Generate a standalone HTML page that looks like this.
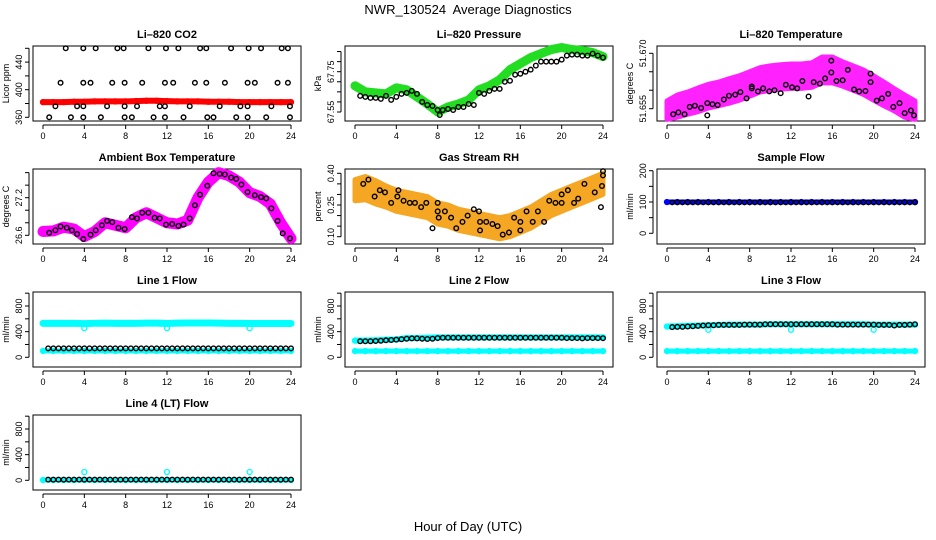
<!DOCTYPE html>
<html><head><meta charset="utf-8">
<style>
html,body{margin:0;padding:0;background:#fff;}
svg{display:block;font-family:"Liberation Sans",sans-serif;}
</style></head>
<body>
<svg id="chart" width="936" height="540" viewBox="0 0 936 540" xmlns="http://www.w3.org/2000/svg">
<rect x="0" y="0" width="936" height="540" fill="#fff"/>
<text x="468" y="14" text-anchor="middle" font-size="13">NWR_130524&#160; Average Diagnostics</text>
<text x="468" y="531" text-anchor="middle" font-size="13">Hour of Day (UTC)</text>
</svg>
<script>
// ---------- data ----------
const hoursHourly = [0,1,2,3,4,5,6,7,8,9,10,11,12,13,14,15,16,17,18,19,20,21,22,23,24];
const xTicks = [0,4,8,12,16,20,24];

// CO2
const co2BlackHours = [2.2,3.9,5.1,7.2,7.8,10.2,11.9,13.1,15.2,15.8,18.2,19.9,21.1,23.1,23.7,
 1.7,3.9,4.6,6.7,7.9,9.6,11.8,12.6,14.7,15.8,17.6,19.8,20.5,22.7,23.7,
 1.2,3.3,3.9,6.2,7.9,9.1,11.3,11.8,14.2,17.1,19.1,19.8,22.1,23.9,
 0.6,2.7,3.9,5.6,7.9,8.6,10.7,11.8,13.6,15.9,16.5,18.7,19.8,21.6,23.9];
const co2BlackVals = [460,460,460,460,460,460,460,460,460,460,460,460,460,460,460,
 410,410,410,410,410,410,410,410,410,410,410,410,410,410,410,
 376,376,376,376,376,376,376,376,376,376,376,376,376,376,
 360,360,360,360,360,360,360,360,360,360,360,360,360,360,360];
const co2Red = [382,382,382,382.5,382.5,383,383,383,383,383.5,384,384,383.5,383,383,383,382.5,382.5,382.5,382,382,382,382,382,382];

// Pressure
const presGreen = [67.68,67.65,67.645,67.64,67.67,67.66,67.625,67.59,67.55,67.575,67.59,67.61,67.66,67.68,67.71,67.76,67.79,67.82,67.84,67.86,67.87,67.86,67.855,67.845,67.825];
const presBlackHours = [0.5,1,1.5,2,2.5,3,3.5,4,4.5,5,5.5,6,6.5,7,7.5,8,8.2,8.5,9,9.5,10,10.5,11,11.5,12,12.5,13,13.5,14,14.5,15,15.5,16,16.5,17,17.5,18,18.5,19,19.5,20,20.5,21,21.5,22,22.5,23,23.5,24];
const presBlackVals = [67.63,67.625,67.62,67.62,67.615,67.63,67.61,67.625,67.64,67.645,67.655,67.64,67.6,67.585,67.58,67.56,67.535,67.56,67.565,67.56,67.575,67.575,67.59,67.585,67.645,67.64,67.655,67.665,67.665,67.7,67.705,67.735,67.74,67.75,67.76,67.78,67.8,67.8,67.8,67.8,67.81,67.83,67.835,67.835,67.83,67.83,67.84,67.83,67.82];

// Li-820 temperature
const tempCenter = [51.6546,51.6557,51.6565,51.6574,51.6584,51.659,51.6598,51.6606,51.6617,51.6628,51.6633,51.6636,51.6638,51.6638,51.6641,51.6655,51.6655,51.6644,51.6633,51.6622,51.6606,51.659,51.6574,51.6557,51.6546];
const tempSpread = [0.0025,0.003,0.003,0.0032,0.0032,0.0032,0.0033,0.0033,0.0033,0.0033,0.0033,0.0033,0.0033,0.0033,0.0033,0.0035,0.0035,0.0033,0.0033,0.0033,0.0033,0.0032,0.003,0.003,0.0025];
const tempBlackHours = [0.6,1.1,1.7,2.2,2.7,3.3,3.9,3.9,4.4,4.9,5.5,6,6.6,7.1,7.7,8.2,8.2,8.8,9.3,9.9,10.4,11,11.5,12.1,12.6,13.1,13.7,14.2,14.8,15.3,15.9,15.9,16.4,17,17.5,18.1,18.6,19.2,19.7,19.7,20.3,20.8,21.4,21.9,22.5,23,23.6,23.9];
const tempBlackVals = [51.6535,51.654,51.6535,51.6555,51.6558,51.6552,51.6532,51.6565,51.6562,51.656,51.6575,51.6585,51.6588,51.6595,51.6578,51.6605,51.661,51.6597,51.6605,51.6597,51.66,51.6592,51.6615,51.6608,51.6605,51.6625,51.6583,51.6622,51.6618,51.6632,51.668,51.6648,51.6625,51.6627,51.6655,51.6602,51.6597,51.6598,51.6645,51.6622,51.6572,51.6578,51.659,51.6555,51.6565,51.6538,51.6545,51.6532];

// Ambient box temperature
const ambMagenta = [26.66,26.67,26.73,26.70,26.58,26.66,26.80,26.76,26.72,26.88,26.96,26.88,26.80,26.78,26.84,27.20,27.45,27.60,27.55,27.45,27.28,27.22,27.10,26.80,26.55];
const ambBlackHours = [0.6,1.2,1.7,2.3,2.8,3.3,3.9,4.6,5.1,5.7,6.2,6.7,7.3,7.9,8.6,9.1,9.6,10.2,10.8,11.3,11.9,12.5,13.1,13.6,14.2,14.7,15.2,15.9,16.5,17.1,17.6,18.2,18.7,19.2,19.8,20.5,21.1,21.6,22.1,22.7,23.2,23.9];
const ambBlackVals = [26.64,26.68,26.74,26.72,26.68,26.62,26.54,26.61,26.68,26.76,26.83,26.81,26.72,26.70,26.89,26.87,26.96,26.96,26.88,26.87,26.77,26.78,26.75,26.77,26.87,27.08,27.25,27.39,27.59,27.58,27.57,27.52,27.50,27.41,27.29,27.24,27.21,27.19,27.03,26.83,26.63,26.55];

// Gas stream RH
const rhCenter = [0.32,0.33,0.31,0.29,0.27,0.26,0.25,0.24,0.21,0.20,0.18,0.17,0.16,0.15,0.14,0.15,0.17,0.19,0.22,0.25,0.27,0.29,0.31,0.33,0.35];
const rhSpread = [0.05,0.055,0.055,0.05,0.05,0.05,0.05,0.05,0.05,0.05,0.05,0.05,0.05,0.05,0.05,0.05,0.05,0.05,0.05,0.05,0.05,0.05,0.05,0.05,0.05];
const rhBlackHours = [0.8,1.3,1.9,2.4,2.9,3.5,4.1,4.2,4.7,5.3,5.8,6.4,6.9,7.5,8.0,8.0,8.1,8.7,9.3,9.8,10.4,10.9,11.5,12.0,12.1,12.1,12.7,13.3,13.8,14.3,14.9,15.4,16.0,16.0,16.6,17.2,17.7,18.3,18.8,19.4,20.0,20.0,20.6,21.2,21.6,22.2,23.2,23.8,23.9,24.0,24.0];
const rhBlackVals = [0.35,0.37,0.29,0.32,0.31,0.26,0.29,0.32,0.27,0.26,0.26,0.24,0.26,0.14,0.26,0.22,0.19,0.22,0.19,0.14,0.17,0.20,0.23,0.22,0.17,0.13,0.17,0.16,0.15,0.11,0.12,0.19,0.17,0.13,0.22,0.17,0.22,0.17,0.27,0.26,0.30,0.26,0.32,0.26,0.28,0.35,0.31,0.24,0.34,0.39,0.41];

// Sample flow
const sampleBlue = [100,100,100,100,100,100,100,100,100,100,100,100,100,100,100,100,100,100,100,100,100,100,100,100,100];
const sampleBlack = [99,99,99,99,99,99,99,99,99,99,99,99,99,99,99,99,99,99,99,99,99,99,99,99,99,99,99,99,99,99,99,99,99,99,99,99,99,99,99,99,99,99,99,99,99,99,99,99];

// Line flows (half-hour black points from 0.5 to 24)
const line1CyanHi = [530,530,530,530,525,530,532,530,530,530,532,532,528,532,535,535,535,532,530,530,528,528,528,528,528];
const line1CyanLo = [100,100,100,100,100,100,100,100,100,100,100,100,100,100,100,100,100,100,100,100,100,100,100,100,100];
const line1Black = [140,140,140,140,140,140,140,140,140,140,140,140,140,140,140,140,140,140,140,140,140,140,140,140,140,140,140,140,140,140,140,140,140,140,140,140,140,140,140,140,140,140,140,140,140,140,140,140];
const line2CyanHi = [260,262,265,275,280,300,300,305,310,310,310,310,310,310,310,310,310,310,310,310,310,310,310,310,310];
const line2CyanLo = [97,97,97,97,97,97,97,97,97,97,97,97,97,97,97,97,97,97,97,97,97,97,97,97,97];
const line2Black = [250,250,250,255,258,265,270,275,282,290,295,295,290,285,290,300,305,305,305,305,305,305,305,305,305,305,305,305,305,305,305,305,305,305,305,305,305,305,305,305,300,300,300,295,300,300,300,298];
const line3CyanHi = [480,485,490,495,500,505,510,510,510,510,515,515,515,515,515,515,515,515,515,515,510,510,510,510,510];
const line3CyanLo = [97,97,97,97,97,97,97,97,97,97,97,97,97,97,97,97,97,97,97,97,97,97,97,97,97];
const line3Black = [470,475,475,480,485,490,495,500,500,505,505,505,505,505,510,510,510,510,515,515,515,515,515,515,515,515,515,515,515,515,515,515,510,510,510,510,510,510,510,510,505,505,505,495,505,505,510,515];
const line4Cyan = [5,5,5,5,5,5,5,5,5,5,5,5,5,5,5,5,5,5,5,5,5,5,5,5,5];
const line4Black = [10,10,10,10,10,10,10,10,10,10,10,10,10,10,10,10,10,10,10,10,10,10,10,10,10,10,10,10,10,10,10,10,10,10,10,10,10,10,10,10,10,10,10,10,10,10,10,10];
const flowOutlierHours = [4,12,20];
const line1Outliers = [455,455,455];
const line3Outliers = [430,430,430];
const line4Outliers = [130,130,130];

// ---------- drawing ----------
const NS = "http://www.w3.org/2000/svg";
const svg = document.getElementById("chart");
const ROWTOP = [46,169,292,415];
const BOXH = 75;

function mk(tag, attrs, parent) {
  const e = document.createElementNS(NS, tag);
  for (const k in attrs) e.setAttribute(k, attrs[k]);
  (parent || svg).appendChild(e);
  return e;
}

function makePanel(col, row, name, title, ylab, v1, o1, v2, o2, yTickVals, yLabelVals, yLabelText) {
  const g = mk("g", {});
  
  
  const x0 = 43 + col * 312;
  const top = ROWTOP[row];
  const left = x0 - 10, right = x0 + 258;
  const xs = t => x0 + t * (248 / 24);
  const ys = v => top + o1 + (v - v1) * (o2 - o1) / (v2 - v1);
  const t = mk("text", {x: (left + right) / 2, y: top - 8, "text-anchor": "middle", "font-size": "11", "font-weight": "bold"}, g);
  t.textContent = title;
  
  
  const box = mk("rect", {x: left, y: top, width: right - left, height: BOXH, fill: "none", stroke: "#000", "stroke-width": 1}, g);
  
  
  const marks = mk("g", {}, g);
  
  
  const xa = mk("g", {}, g);
  
  
  mk("line", {x1: xs(0), x2: xs(24), y1: top + BOXH + 4, y2: top + BOXH + 4, stroke: "#000"}, xa);
  xTicks.forEach(v => {
    mk("line", {x1: xs(v), x2: xs(v), y1: top + BOXH + 4, y2: top + BOXH + 8, stroke: "#000"}, xa);
    const l = mk("text", {x: xs(v), y: top + BOXH + 18, "text-anchor": "middle", "font-size": "9"}, xa);
    l.textContent = v;
  });
  const ya = mk("g", {}, g);
  
  
  const ylo = Math.min(...yTickVals.map(ys)), yhi = Math.max(...yTickVals.map(ys));
  mk("line", {x1: left - 4, x2: left - 4, y1: ylo, y2: yhi, stroke: "#000"}, ya);
  yTickVals.forEach(v => {
    mk("line", {x1: left - 4, x2: left - 8, y1: ys(v), y2: ys(v), stroke: "#000"}, ya);
  });
  yLabelVals.forEach((v, i) => {
    const yy = ys(v), xx = left - 11;
    const l = mk("text", {x: xx, y: yy, "text-anchor": "middle", "font-size": "9", transform: `rotate(-90 ${xx} ${yy})`}, ya);
    l.textContent = yLabelText ? yLabelText[i] : v;
  });
  const yt = mk("text", {x: left - 24, y: top + BOXH / 2, "text-anchor": "middle", "font-size": "9", transform: `rotate(-90 ${left - 24} ${top + BOXH / 2})`}, g);
  yt.textContent = ylab;
  
  
  return {xs, ys, marks, name};
}

function circles(p, hours, vals, color, r, sw, label) {
  const g = mk("g", {}, p.marks);
  
  
  vals.forEach((v, i) => {
    const c = mk("circle", {cx: p.xs(hours[i]), cy: p.ys(v), r: r, fill: "none", stroke: color, "stroke-width": sw}, g);
    
  });
}
function halfHours(n) { const a = []; for (let i = 0; i < n; i++) a.push(0.5 + i * 0.5); return a; }
function band(p, hours, vals, color, width, label) {
  const pts = vals.map((v, i) => p.xs(hours[i]) + "," + p.ys(v)).join(" ");
  const l = mk("polyline", {points: pts, fill: "none", stroke: color, "stroke-width": width, "stroke-linejoin": "round", "stroke-linecap": "round"}, p.marks);
  
  
  circles(p, hours, vals, color, 2.5, 1.3, label + '-dots');
}
function cloud(p, hours, center, spread, color, label) {
  const up = center.map((v, i) => p.xs(hours[i]) + "," + p.ys(v + spread[i]));
  const dn = center.map((v, i) => p.xs(hours[i]) + "," + p.ys(v - spread[i])).reverse();
  const poly = mk("polygon", {points: up.concat(dn).join(" "), fill: color, stroke: color, "stroke-width": 5, "stroke-linejoin": "round"}, p.marks);
  
  
}

let p = makePanel(0, 0, "co2", "Li\u2013820 CO2", "Licor ppm", 360, 71.3, 460, 2.3, [360,380,400,420,440,460], [360,400,440]);
band(p, hoursHourly, co2Red, "#ff0000", 6, "red-series");
circles(p, co2BlackHours, co2BlackVals, "#000", 2.3, 1.4, "black-series");

p = makePanel(1, 0, "pressure", "Li\u2013820 Pressure", "kPa", 67.55, 66, 67.75, 25.7, [67.55,67.6,67.65,67.7,67.75,67.8,67.85], [67.55,67.75], ["67.55","67.75"]);
band(p, hoursHourly, presGreen, "#22dd22", 9, "green-series");
circles(p, presBlackHours, presBlackVals, "#000", 2.3, 1.4, "black-series");

p = makePanel(2, 0, "li820-temperature", "Li\u2013820 Temperature", "degrees C", 51.655, 62.7, 51.670, 7.3, [51.655,51.660,51.665,51.670], [51.655,51.670], ["51.655","51.670"]);
cloud(p, hoursHourly, tempCenter, tempSpread, "#ff22ff", "magenta-cloud");
circles(p, tempBlackHours, tempBlackVals, "#000", 2.3, 1.4, "black-series");

p = makePanel(0, 1, "ambient-temperature", "Ambient Box Temperature", "degrees C", 26.6, 66.3, 27.2, 28.7, [26.6,26.8,27.0,27.2,27.4,27.6], [26.6,27.2], ["26.6","27.2"]);
band(p, hoursHourly, ambMagenta, "#ff00ff", 11, "magenta-series");
circles(p, ambBlackHours, ambBlackVals, "#000", 2.3, 1.4, "black-series");

p = makePanel(1, 1, "gas-stream-rh", "Gas Stream RH", "percent", 0.10, 67.7, 0.40, 4.3, [0.10,0.15,0.20,0.25,0.30,0.35,0.40], [0.10,0.25,0.40], ["0.10","0.25","0.40"]);
cloud(p, hoursHourly, rhCenter, rhSpread, "#f5a623", "orange-cloud");
circles(p, rhBlackHours, rhBlackVals, "#000", 2.3, 1.4, "black-series");

p = makePanel(2, 1, "sample-flow", "Sample Flow", "ml/min", 0, 64.3, 200, 1.7, [0,50,100,150,200], [0,100,200]);
band(p, hoursHourly, sampleBlue, "#0000ff", 5, "blue-series");
circles(p, halfHours(48), sampleBlack, "#000", 2.3, 1.4, "black-series");

const flowTicks = [0,200,400,600,800,1000], flowLabels = [0,400,800];
p = makePanel(0, 2, "line1-flow", "Line 1 Flow", "ml/min", 0, 65.3, 800, 14, flowTicks, flowLabels);
band(p, hoursHourly, line1CyanHi, "#00ffff", 7, "cyan-upper");
band(p, hoursHourly, line1CyanLo, "#00ffff", 5, "cyan-lower");
circles(p, flowOutlierHours, line1Outliers, "#00ffff", 2.5, 1.3, "cyan-outliers");
circles(p, halfHours(48), line1Black, "#000", 2.3, 1.4, "black-series");

p = makePanel(1, 2, "line2-flow", "Line 2 Flow", "ml/min", 0, 65.3, 800, 14, flowTicks, flowLabels);
band(p, hoursHourly, line2CyanHi, "#00ffff", 6, "cyan-upper");
band(p, hoursHourly, line2CyanLo, "#00ffff", 5, "cyan-lower");
circles(p, halfHours(48), line2Black, "#000", 2.3, 1.4, "black-series");

p = makePanel(2, 2, "line3-flow", "Line 3 Flow", "ml/min", 0, 65.3, 800, 14, flowTicks, flowLabels);
band(p, hoursHourly, line3CyanHi, "#00ffff", 6, "cyan-upper");
band(p, hoursHourly, line3CyanLo, "#00ffff", 5, "cyan-lower");
circles(p, flowOutlierHours, line3Outliers, "#00ffff", 2.5, 1.3, "cyan-outliers");
circles(p, halfHours(48), line3Black, "#000", 2.3, 1.4, "black-series");

p = makePanel(0, 3, "line4-flow", "Line 4 (LT) Flow", "ml/min", 0, 65.3, 800, 14, flowTicks, flowLabels);
band(p, hoursHourly, line4Cyan, "#00ffff", 5, "cyan-series");
circles(p, flowOutlierHours, line4Outliers, "#00ffff", 2.5, 1.3, "cyan-outliers");
circles(p, halfHours(48), line4Black, "#000", 2.3, 1.4, "black-series");
</script>
</body></html>
